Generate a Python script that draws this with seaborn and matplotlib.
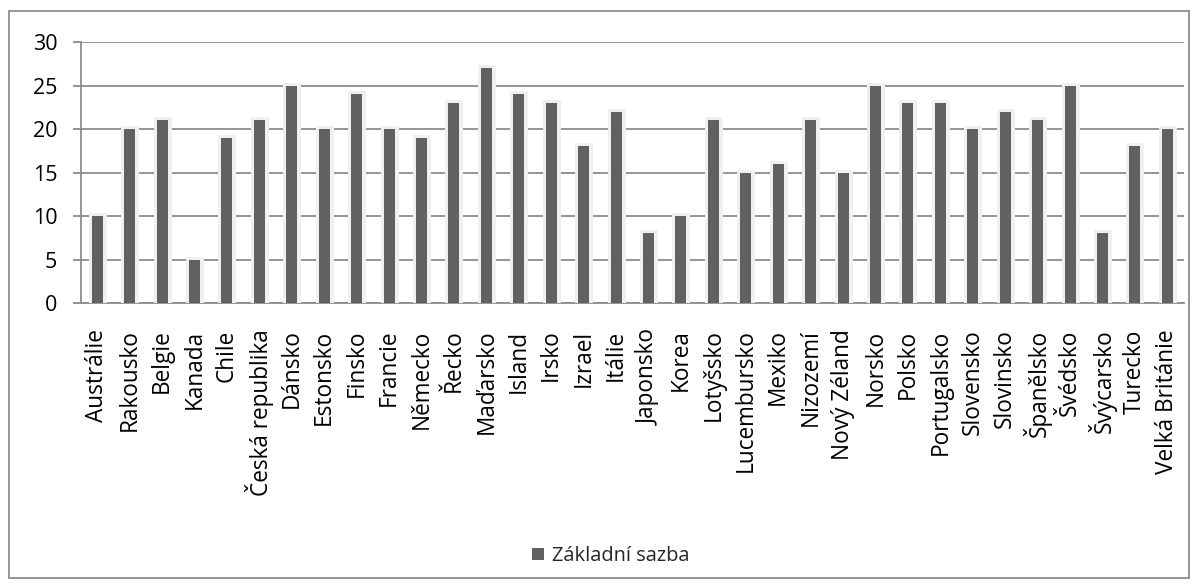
import matplotlib
matplotlib.use("Agg")
import matplotlib.pyplot as plt
import matplotlib.patheffects as pe
from matplotlib.patches import Rectangle, Patch
import seaborn as sns
import pandas as pd
import numpy as np

countries = ["Austrálie", "Rakousko", "Belgie", "Kanada", "Chile", "Česká republika",
             "Dánsko", "Estonsko", "Finsko", "Francie", "Německo", "Řecko", "Maďarsko",
             "Island", "Irsko", "Izrael", "Itálie", "Japonsko", "Korea", "Lotyšsko",
             "Lucembursko", "Mexiko", "Nizozemí", "Nový Zéland", "Norsko", "Polsko",
             "Portugalsko", "Slovensko", "Slovinsko", "Španělsko", "Švédsko", "Švýcarsko",
             "Turecko", "Velká Británie"]
rates = [10, 20, 21, 5, 19, 21, 25, 20, 24, 20, 19, 23, 27, 24, 23, 18, 22, 8, 10, 21,
         15, 16, 21, 15, 25, 23, 23, 20, 22, 21, 25, 8, 18, 20]
series_name = "Základní sazba"
y_ticks = [0, 5, 10, 15, 20, 25, 30]

df = pd.DataFrame({"stat": countries, "sazba": rates})

sns.set_theme(style="white")
plt.rcParams["font.family"] = ["Open Sans", "DejaVu Sans"]

bar_color = "#616161"
grid_color = "#8c8c8c"

fig = plt.figure(figsize=(11.98, 5.86), dpi=100)
ax = fig.add_axes([0.0676, 0.4829, 0.9204, 0.4454])

sns.barplot(data=df, x="stat", y="sazba", color=bar_color, width=0.34,
            saturation=1, ax=ax, zorder=3)
for p in ax.patches:
    p.set_edgecolor("none")
    p.set_path_effects([pe.Stroke(linewidth=5, foreground="#f0f0f0"), pe.Normal()])

ax.set_ylim(0, 30)
ax.set_xlim(-0.5, len(countries) - 0.5)
ax.set_yticks(y_ticks)
ax.yaxis.grid(True, color=grid_color, linewidth=1.3, zorder=0)
ax.set_axisbelow(True)
ax.set_xlabel("")
ax.set_ylabel("")

for s in ["top", "right"]:
    ax.spines[s].set_visible(False)
for s in ["left", "bottom"]:
    ax.spines[s].set_color(grid_color)
    ax.spines[s].set_linewidth(1.3)

ax.set_xticks(range(len(countries)))
ax.set_xticklabels(countries, rotation=90, fontsize=16.3, color="black")
ax.set_xticks(np.arange(-0.5, len(countries), 1.0), minor=True)
ax.tick_params(axis="x", which="major", length=0, pad=19)
ax.tick_params(axis="x", which="minor", length=6, width=1.3, color=grid_color, direction="out")
ax.tick_params(axis="y", which="major", length=6, width=1.3, color=grid_color,
               direction="out", labelsize=15.5, labelcolor="black", left=True, pad=11)

handles = [Patch(facecolor=bar_color, edgecolor="none", label=series_name)]
fig.legend(handles=handles, loc="center", bbox_to_anchor=(0.51, 0.051), frameon=False,
           fontsize=14.4, handlelength=0.6, handleheight=0.6, handletextpad=0.4)

fig.patches.append(Rectangle((9 / 1198, 1 - 578 / 586), 1180 / 1198, 567 / 586,
                             transform=fig.transFigure, fill=False,
                             edgecolor="#8c8c8c", linewidth=1.3))

fig.savefig("out.png", dpi=100, facecolor="white")
